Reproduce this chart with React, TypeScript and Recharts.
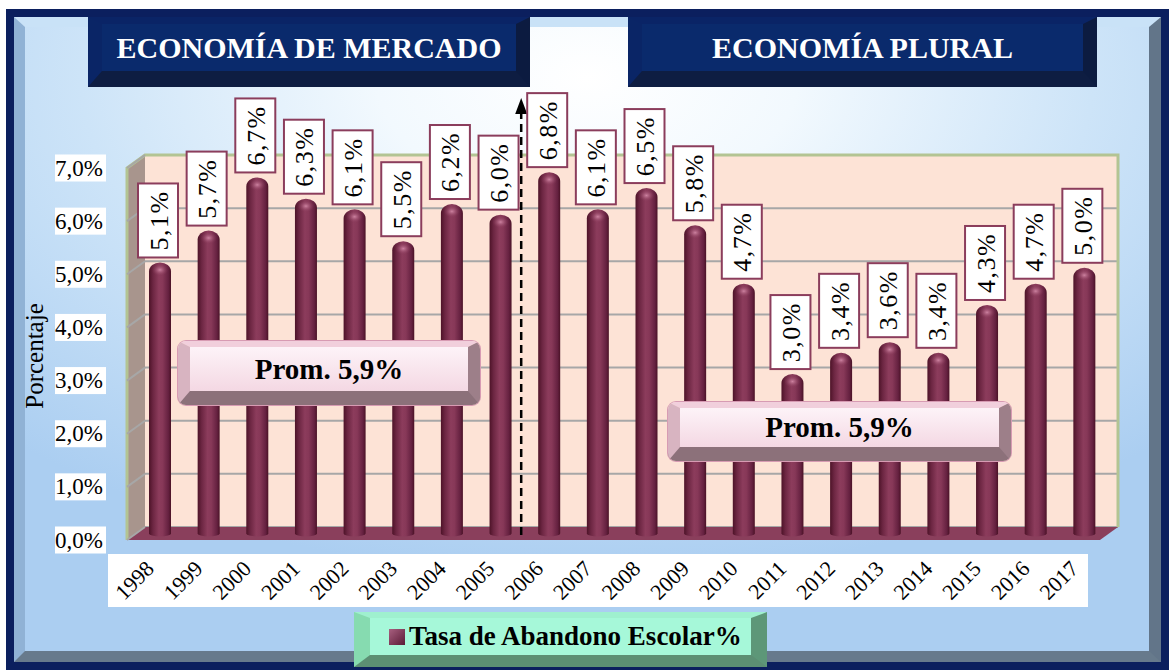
import React from "react";
import { BarChart, Bar, XAxis, YAxis, CartesianGrid, ReferenceArea, ReferenceLine, LabelList } from "recharts";

const YEARS = ["1998", "1999", "2000", "2001", "2002", "2003", "2004", "2005", "2006", "2007",
  "2008", "2009", "2010", "2011", "2012", "2013", "2014", "2015", "2016", "2017"];
const TASA = [5.1, 5.7, 6.7, 6.3, 6.1, 5.5, 6.2, 6.0, 6.8, 6.1, 6.5, 5.8, 4.7, 3.0, 3.4, 3.6, 3.4, 4.3, 4.7, 5.0];
const Y_TICKS = [0, 1, 2, 3, 4, 5, 6, 7];
const SERIES_NAME = "Tasa de Abandono Escolar%";
const HEADERS = ["ECONOMÍA DE MERCADO", "ECONOMÍA PLURAL"];
const PROMEDIOS = ["Prom. 5,9%", "Prom. 5,9%"];
const SPLIT_YEAR = "2006"; // change of economic model

const data = YEARS.map((year, i) => ({ year, tasa: TASA[i] }));

const W = 1169;
const H = 670;
const MARGIN = { top: 155, right: 51, bottom: 142, left: 144 };
const PLOT_LEFT = 145;
const PLOT_BOTTOM = 527;
const DX = 18; // 3D depth
const DY = 13;
const SERIF = '"Liberation Serif", "Times New Roman", serif';
const MAROON = "#8b3d5c";

const pct = (v: number) => v.toFixed(1).replace(".", ",") + "%";

// side panel + floor of the 3D box
function Box3D(props: any) {
  const { x, y, width, height } = props;
  const b = y + height;
  return (
    <g>
      <polygon points={`${x},${y} ${x},${b} ${x - DX},${b + DY} ${x - DX},${y + DY}`} fill="#a8958d" />
      <polygon points={`${x},${b} ${x + width},${b} ${x + width - DX},${b + DY} ${x - DX},${b + DY}`} fill="#8a3f5c" />
      <polyline points={`${x - DX},${b + DY} ${x - DX},${y + DY} ${x},${y} ${x + width},${y} ${x + width},${b}`}
        fill="none" stroke="#b3c493" strokeWidth={3} />
    </g>
  );
}

function Cylinder(props: any) {
  const { x, y, width, height } = props;
  if (!height) return null;
  const cx = x + width / 2 - DX / 2;
  const r = width / 2;
  const top = y + DY / 2;
  const bottom = y + height + DY / 2;
  const l = cx - r;
  const rr = cx + r;
  return (
    <g>
      <path d={`M${l},${bottom} L${l},${top + 9} A${r} 9 0 0 1 ${rr},${top + 9} L${rr},${bottom} A${r} 3 0 0 1 ${l},${bottom} Z`}
        fill="url(#cyl)" />
      <ellipse cx={cx} cy={top + 8} rx={r * 0.75} ry={6} fill="url(#capHi)" />
    </g>
  );
}

function ValueBox(props: any) {
  const { x, y, width, value } = props;
  const cx = x + width / 2 - DX / 2 - 2;
  const bottom = y + DY / 2 - 5;
  const bw = 40;
  const bh = 74;
  return (
    <g>
      <rect x={cx - bw / 2} y={bottom - bh} width={bw} height={bh} fill="#fff" stroke={MAROON} strokeWidth={2} />
      <text transform={`translate(${cx + 1},${bottom - bh / 2}) rotate(-90)`} textAnchor="middle" dominantBaseline="central"
        fontFamily={SERIF} fontSize={26} letterSpacing={1.5} fill="#000">{pct(value)}</text>
    </g>
  );
}

function PctTick(props: any) {
  const { y, payload } = props;
  const fy = y + DY;
  return (
    <g>
      <line x1={PLOT_LEFT} y1={y} x2={PLOT_LEFT - DX} y2={fy} stroke="#a7a7a7" strokeWidth={2} />
      <rect x={55} y={fy - 13.5} width={51} height={27} fill="#fff" />
      <text x={103} y={fy} textAnchor="end" dominantBaseline="central" fontFamily={SERIF} fontSize={23} fill="#000">
        {pct(payload.value)}
      </text>
    </g>
  );
}

function YearTick(props: any) {
  const { x, payload } = props;
  return (
    <text transform={`translate(${x - 14},${PLOT_BOTTOM + 43}) rotate(-45)`} textAnchor="end"
      fontFamily={SERIF} fontSize={22} fill="#000">{payload.value}</text>
  );
}

function SplitArrow(props: any) {
  const x = (props.x1 ?? 0) - DX / 2 - 4;
  const y0 = PLOT_BOTTOM + 8;
  const yTop = 98;
  return (
    <g>
      <line x1={x} y1={y0} x2={x} y2={yTop + 12} stroke="#000" strokeWidth={2.5} strokeDasharray="8 5" />
      <polygon points={`${x},${yTop} ${x - 6},${yTop + 16} ${x + 6},${yTop + 16}`} fill="#000" />
    </g>
  );
}

function Header({ text, left, width }: { text: string; left: number; width: number }) {
  return (
    <div style={{
      position: "absolute", left, top: 17, width, height: 70, boxSizing: "border-box",
      borderStyle: "solid", borderWidth: "7px 14px 16px 14px",
      borderColor: "#0a2466 #0c1b40 #0e1d42 #0a2566", background: "#0a2a6c",
      display: "flex", alignItems: "center", justifyContent: "center",
      color: "#fff", fontFamily: SERIF, fontWeight: "bold", fontSize: 30,
    }}>{text}</div>
  );
}

function PromBox({ text, left, top, width, height }: { text: string; left: number; top: number; width: number; height: number }) {
  return (
    <div style={{
      position: "absolute", left, top, width, height, boxSizing: "border-box", borderRadius: 8,
      borderStyle: "solid", borderWidth: "6px 12px 14px 12px",
      borderColor: "#f1cfdc #9d7f89 #8c717a #d8b4c1",
      background: "linear-gradient(#fdf3f8, #f4d8e3)", boxShadow: "0 0 0 1px #d79bb3",
      display: "flex", alignItems: "center", justifyContent: "center",
      fontFamily: SERIF, fontWeight: "bold", fontSize: 29, color: "#000",
    }}>{text}</div>
  );
}

export default function App() {
  return (
    <div style={{ position: "absolute", left: 0, top: 0, width: W, height: H, background: "#fff", overflow: "hidden" }}>
      {/* outer frame */}
      <div style={{
        position: "absolute", left: 6, top: 9, width: W - 6, height: H - 9, boxSizing: "border-box",
        border: "8px solid #0b1f5e",
      }}>
        <div style={{
          position: "absolute", inset: 0, boxSizing: "border-box",
          borderStyle: "solid", borderWidth: "10px 12px 11px 11px",
          borderColor: "#c9e2f7 #627589 #677a8c #90b2d5",
          background: "radial-gradient(ellipse 75% 80% at 50% 8%, #ffffff 0%, #f2f9fe 25%, #cde4f8 60%, #abcef1 100%)",
        }} />
      </div>
      {/* white strip behind the year labels */}
      <div style={{ position: "absolute", left: 108, top: 554, width: 980, height: 53, background: "#fff" }} />

      <Header text={HEADERS[0]} left={88} width={442} />
      <Header text={HEADERS[1]} left={628} width={469} />

      <div style={{
        position: "absolute", left: 35, top: 356, transform: "translate(-50%,-50%) rotate(-90deg)",
        fontFamily: SERIF, fontSize: 25, whiteSpace: "nowrap", color: "#000",
      }}>Porcentaje</div>

      <div style={{ position: "absolute", left: 0, top: 0 }}>
        <BarChart width={W} height={H} data={data} margin={MARGIN} barSize={22}>
          <defs>
            <linearGradient id="cyl" x1="0" y1="0" x2="1" y2="0">
              <stop offset="0" stopColor="#4d1328" />
              <stop offset="0.18" stopColor="#6c2642" />
              <stop offset="0.45" stopColor="#8c3c5c" />
              <stop offset="0.62" stopColor="#873858" />
              <stop offset="0.88" stopColor="#652140" />
              <stop offset="1" stopColor="#4a1226" />
            </linearGradient>
            <radialGradient id="capHi" cx="0.5" cy="0.45" r="0.5">
              <stop offset="0" stopColor="#d48aa8" stopOpacity={0.9} />
              <stop offset="1" stopColor="#8c3c5c" stopOpacity={0} />
            </radialGradient>
          </defs>
          <CartesianGrid vertical={false} stroke="#a7a7a7" strokeWidth={2} fill="#fde3d6" fillOpacity={1} />
          <ReferenceArea y1={0} y2={7} shape={Box3D} />
          <XAxis dataKey="year" height={1} interval={0} axisLine={false} tickLine={false} tick={<YearTick />} />
          <YAxis domain={[0, 7]} ticks={Y_TICKS} width={1} axisLine={false} tickLine={false} tick={<PctTick />} />
          <ReferenceLine x={SPLIT_YEAR} position="start" shape={SplitArrow} ifOverflow="visible" />
          <Bar dataKey="tasa" name={SERIES_NAME} shape={<Cylinder />} isAnimationActive={false}>
            <LabelList dataKey="tasa" content={<ValueBox />} />
          </Bar>
        </BarChart>
      </div>

      <PromBox text={PROMEDIOS[0]} left={178} top={341} width={302} height={64} />
      <PromBox text={PROMEDIOS[1]} left={668} top={402} width={343} height={59} />

      {/* legend */}
      <div style={{
        position: "absolute", left: 354, top: 612, width: 413, height: 55, boxSizing: "border-box",
        borderStyle: "solid", borderWidth: "6px 16px 12px 16px",
        borderColor: "#9ff0cf #5d9778 #5c8f73 #86dbb0", background: "#a6f8d9",
        display: "flex", alignItems: "center", paddingLeft: 19, gap: 4,
        fontFamily: SERIF, fontWeight: "bold", fontSize: 27, color: "#000",
      }}>
        <span style={{ width: 16, height: 16, background: "linear-gradient(135deg, #a86080, #5a1a35)", display: "inline-block" }} />
        <span>{SERIES_NAME}</span>
      </div>
    </div>
  );
}
